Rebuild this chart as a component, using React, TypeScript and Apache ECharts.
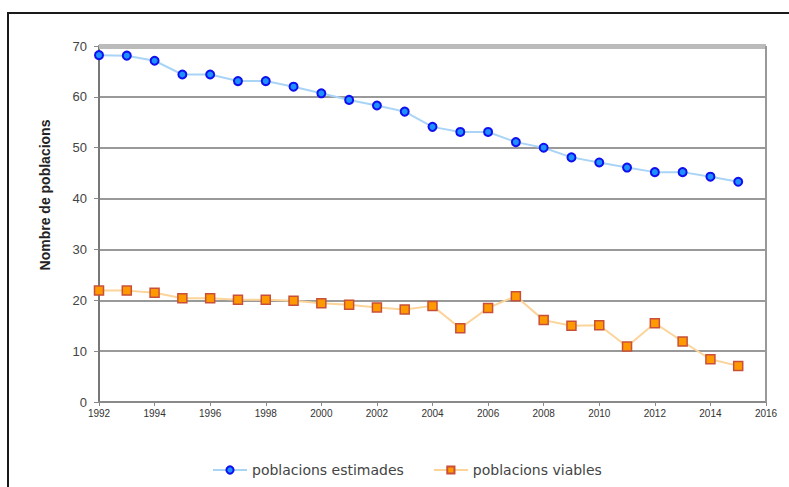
import React, { useEffect, useRef } from "react";
import * as echarts from "echarts";

const years = [1992, 1993, 1994, 1995, 1996, 1997, 1998, 1999, 2000, 2001, 2002, 2003, 2004, 2005, 2006, 2007, 2008, 2009, 2010, 2011, 2012, 2013, 2014, 2015];
const estimades = [68.2, 68.1, 67.1, 64.4, 64.4, 63.1, 63.1, 62.0, 60.7, 59.4, 58.3, 57.1, 54.1, 53.1, 53.1, 51.1, 50.0, 48.1, 47.1, 46.1, 45.2, 45.2, 44.3, 43.3];
const viables = [21.9, 21.9, 21.5, 20.4, 20.4, 20.1, 20.1, 19.9, 19.4, 19.1, 18.6, 18.2, 18.9, 14.5, 18.5, 20.8, 16.1, 15.0, 15.1, 10.9, 15.5, 11.9, 8.4, 7.1];
const legendNames = ["poblacions estimades", "poblacions viables"];
const yTitle = "Nombre de poblacions";

export default function App() {
  const ref = useRef<HTMLDivElement>(null);
  useEffect(() => {
    document.body.style.margin = "0";
    const chart = echarts.init(ref.current!, null, { renderer: "svg" });
    const font = "'Liberation Sans', Arial, sans-serif";
    chart.setOption({
      animation: false,
      backgroundColor: "#ffffff",
      textStyle: { fontFamily: font },
      graphic: [
        {
          type: "rect",
          shape: { x: 8, y: 13, width: 900, height: 600 },
          style: { fill: "none", stroke: "#1a1a1a", lineWidth: 2 },
          silent: true,
          z: 0,
        },
        {
          type: "text",
          x: 45,
          y: 195,
          rotation: Math.PI / 2,
          style: {
            text: yTitle,
            fill: "#222",
            font: "bold 14px 'Liberation Sans', Arial, sans-serif",
            align: "center",
            verticalAlign: "middle",
          },
          silent: true,
        },
      ],
      grid: { left: 99, right: 23, top: 46, bottom: 85 },
      legend: {
        left: 207,
        top: 458,
        itemWidth: 34,
        itemHeight: 9,
        itemGap: 29,
        textStyle: { color: "#444", fontSize: 14, fontFamily: "'DejaVu Sans', sans-serif" },
        data: legendNames,
      },
      xAxis: {
        type: "value",
        min: 1992,
        max: 2016,
        interval: 2,
        axisLine: { show: true, lineStyle: { color: "#8a8a8a", width: 2 } },
        axisTick: { show: true, length: 4, lineStyle: { color: "#8a8a8a", width: 1 } },
        axisLabel: { color: "#333", fontSize: 10, margin: 6, formatter: (v: number) => String(v) },
        splitLine: { show: false },
      },
      yAxis: {
        type: "value",
        min: 0,
        max: 70,
        interval: 10,
        axisLine: { show: true, lineStyle: { color: "#777", width: 2 } },
        axisTick: { show: true, length: 5, lineStyle: { color: "#888" } },
        axisLabel: { color: "#444", fontSize: 13, margin: 12 },
        splitLine: { show: true, lineStyle: { color: "#999", width: 2 } },
      },
      series: [
        {
          name: legendNames[0],
          type: "line",
          data: years.map((y, i) => [y, estimades[i]]),
          symbol: "circle",
          symbolSize: 8,
          itemStyle: { color: "#1e90ff", borderColor: "#1010ee", borderWidth: 2 },
          lineStyle: { color: "#aad4f6", width: 2 },
          z: 5,
          markLine: {
            silent: true,
            symbol: "none",
            label: { show: false },
            data: [
              { yAxis: 70, lineStyle: { color: "#bbbbbb", width: 5, type: "solid" } },
              { xAxis: 2016, lineStyle: { color: "#999", width: 2, type: "solid" } },
            ],
          },
        },
        {
          name: legendNames[1],
          type: "line",
          data: years.map((y, i) => [y, viables[i]]),
          symbol: "rect",
          symbolSize: 9,
          itemStyle: { color: "#ff9900", borderColor: "#c8503a", borderWidth: 1.5 },
          lineStyle: { color: "#fbd49a", width: 2 },
          z: 5,
        },
      ],
    });
    return () => chart.dispose();
  }, []);
  return <div ref={ref} style={{ width: 789, height: 487 }} />;
}
